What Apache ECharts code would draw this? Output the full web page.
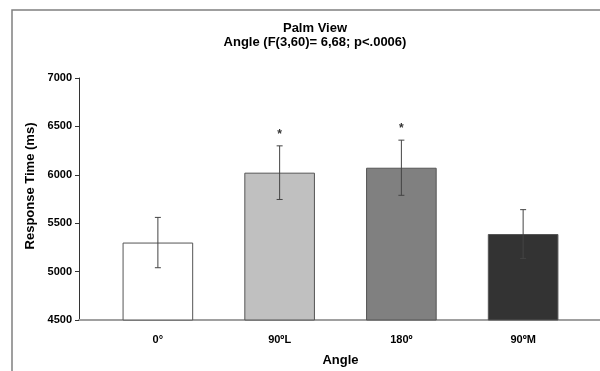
<!DOCTYPE html>
<html><head><meta charset="utf-8">
<script src="https://cdn.jsdelivr.net/npm/echarts@6/dist/echarts.min.js"></script>
<style>html,body{margin:0;padding:0;background:#fff}#c{width:600px;height:371px}</style>
</head><body><div id="c"></div>
<script>
var categories = ['0°', '90ºL', '180º', '90ºM'];
var means = [5300, 6022, 6073, 5388];
var errors = [260, 277, 285, 252];
var significance = ['', '*', '*', ''];
var yTicks = [4500, 5000, 5500, 6000, 6500, 7000];
var barColors = ['#ffffff', '#c0c0c0', '#808080', '#333333'];

var chart = echarts.init(document.getElementById('c'));
var font = 'Arial, "Liberation Sans", sans-serif';
var errData = means.map(function (m, i) { return [i, m - errors[i], m + errors[i], significance[i]]; });

chart.setOption({
  animation: false,
  title: [{
    text: 'Palm View',
    subtext: 'Angle (F(3,60)= 6,68; p<.0006)',
    left: 310, top: 17, textAlign: 'center',
    itemGap: 1,
    textStyle: { fontFamily: font, fontSize: 13, fontWeight: 'bold', color: '#000' },
    subtextStyle: { fontFamily: font, fontSize: 13, fontWeight: 'bold', color: '#000' }
  }],
  grid: [
    { left: 12, top: 10, right: -60, bottom: -60, show: true, borderColor: '#808080', borderWidth: 1.5,
      backgroundColor: 'transparent', outerBoundsMode: 'none', containLabel: false },
    { left: 79, top: 78, right: 0, bottom: 51, outerBoundsMode: 'none', containLabel: false },
    { left: 97, top: 78, right: 16, bottom: 51, outerBoundsMode: 'none', containLabel: false }
  ],
  xAxis: [
    { gridIndex: 0, type: 'value', show: false },
    { gridIndex: 1, type: 'value', min: 0, max: 1, axisLine: { show: true, lineStyle: { color: '#a0a0a0', width: 2 } },
      axisTick: { show: false }, axisLabel: { show: false }, splitLine: { show: false } },
    { gridIndex: 2, type: 'category', data: categories,
      axisLine: { show: false }, axisTick: { show: false },
      axisLabel: { fontFamily: font, fontSize: 11, fontWeight: 'bold', color: '#000', margin: 14 },
      name: 'Angle', nameLocation: 'middle', nameGap: 34,
      nameTextStyle: { fontFamily: font, fontSize: 13, fontWeight: 'bold', color: '#000' } }
  ],
  yAxis: [
    { gridIndex: 0, type: 'value', show: false },
    { gridIndex: 1, type: 'value', min: yTicks[0], max: yTicks[yTicks.length - 1], interval: 500,
      axisLine: { show: true, lineStyle: { color: '#333', width: 1 } },
      axisTick: { show: true, length: 4, lineStyle: { color: '#333' } },
      splitLine: { show: false },
      axisLabel: { fontFamily: font, fontSize: 11, fontWeight: 'bold', color: '#000', margin: 7,
        formatter: function (v) { return String(v); } },
      name: 'Response Time (ms)', nameLocation: 'middle', nameGap: 42,
      nameTextStyle: { fontFamily: font, fontSize: 13, fontWeight: 'bold', color: '#000', padding: [0, 0, 0, 26] } },
    { gridIndex: 2, type: 'value', min: yTicks[0], max: yTicks[yTicks.length - 1], show: false }
  ],
  series: [
    {
      type: 'bar', xAxisIndex: 2, yAxisIndex: 2, barWidth: '58%',
      data: means.map(function (v, i) {
        return { value: v, itemStyle: { color: barColors[i], borderColor: '#555', borderWidth: 1 } };
      }),
      z: 2
    },
    {
      type: 'custom', xAxisIndex: 2, yAxisIndex: 2, z: 5,
      data: errData,
      renderItem: function (params, api) {
        var x = api.value(0);
        var lo = api.coord([x, api.value(1)]);
        var hi = api.coord([x, api.value(2)]);
        var cw = 3;
        var st = { stroke: '#444', lineWidth: 1 };
        var children = [
          { type: 'line', shape: { x1: hi[0], y1: hi[1], x2: lo[0], y2: lo[1] }, style: st },
          { type: 'line', shape: { x1: hi[0] - cw, y1: hi[1], x2: hi[0] + cw, y2: hi[1] }, style: st },
          { type: 'line', shape: { x1: lo[0] - cw, y1: lo[1], x2: lo[0] + cw, y2: lo[1] }, style: st }
        ];
        var s = api.value(3);
        if (s) {
          children.push({ type: 'text', style: { text: s, x: hi[0], y: hi[1] - 11, textAlign: 'center', textVerticalAlign: 'middle',
            font: 'bold 12px ' + font, fill: '#333' } });
        }
        return { type: 'group', children: children };
      }
    }
  ]
});
</script></body></html>
